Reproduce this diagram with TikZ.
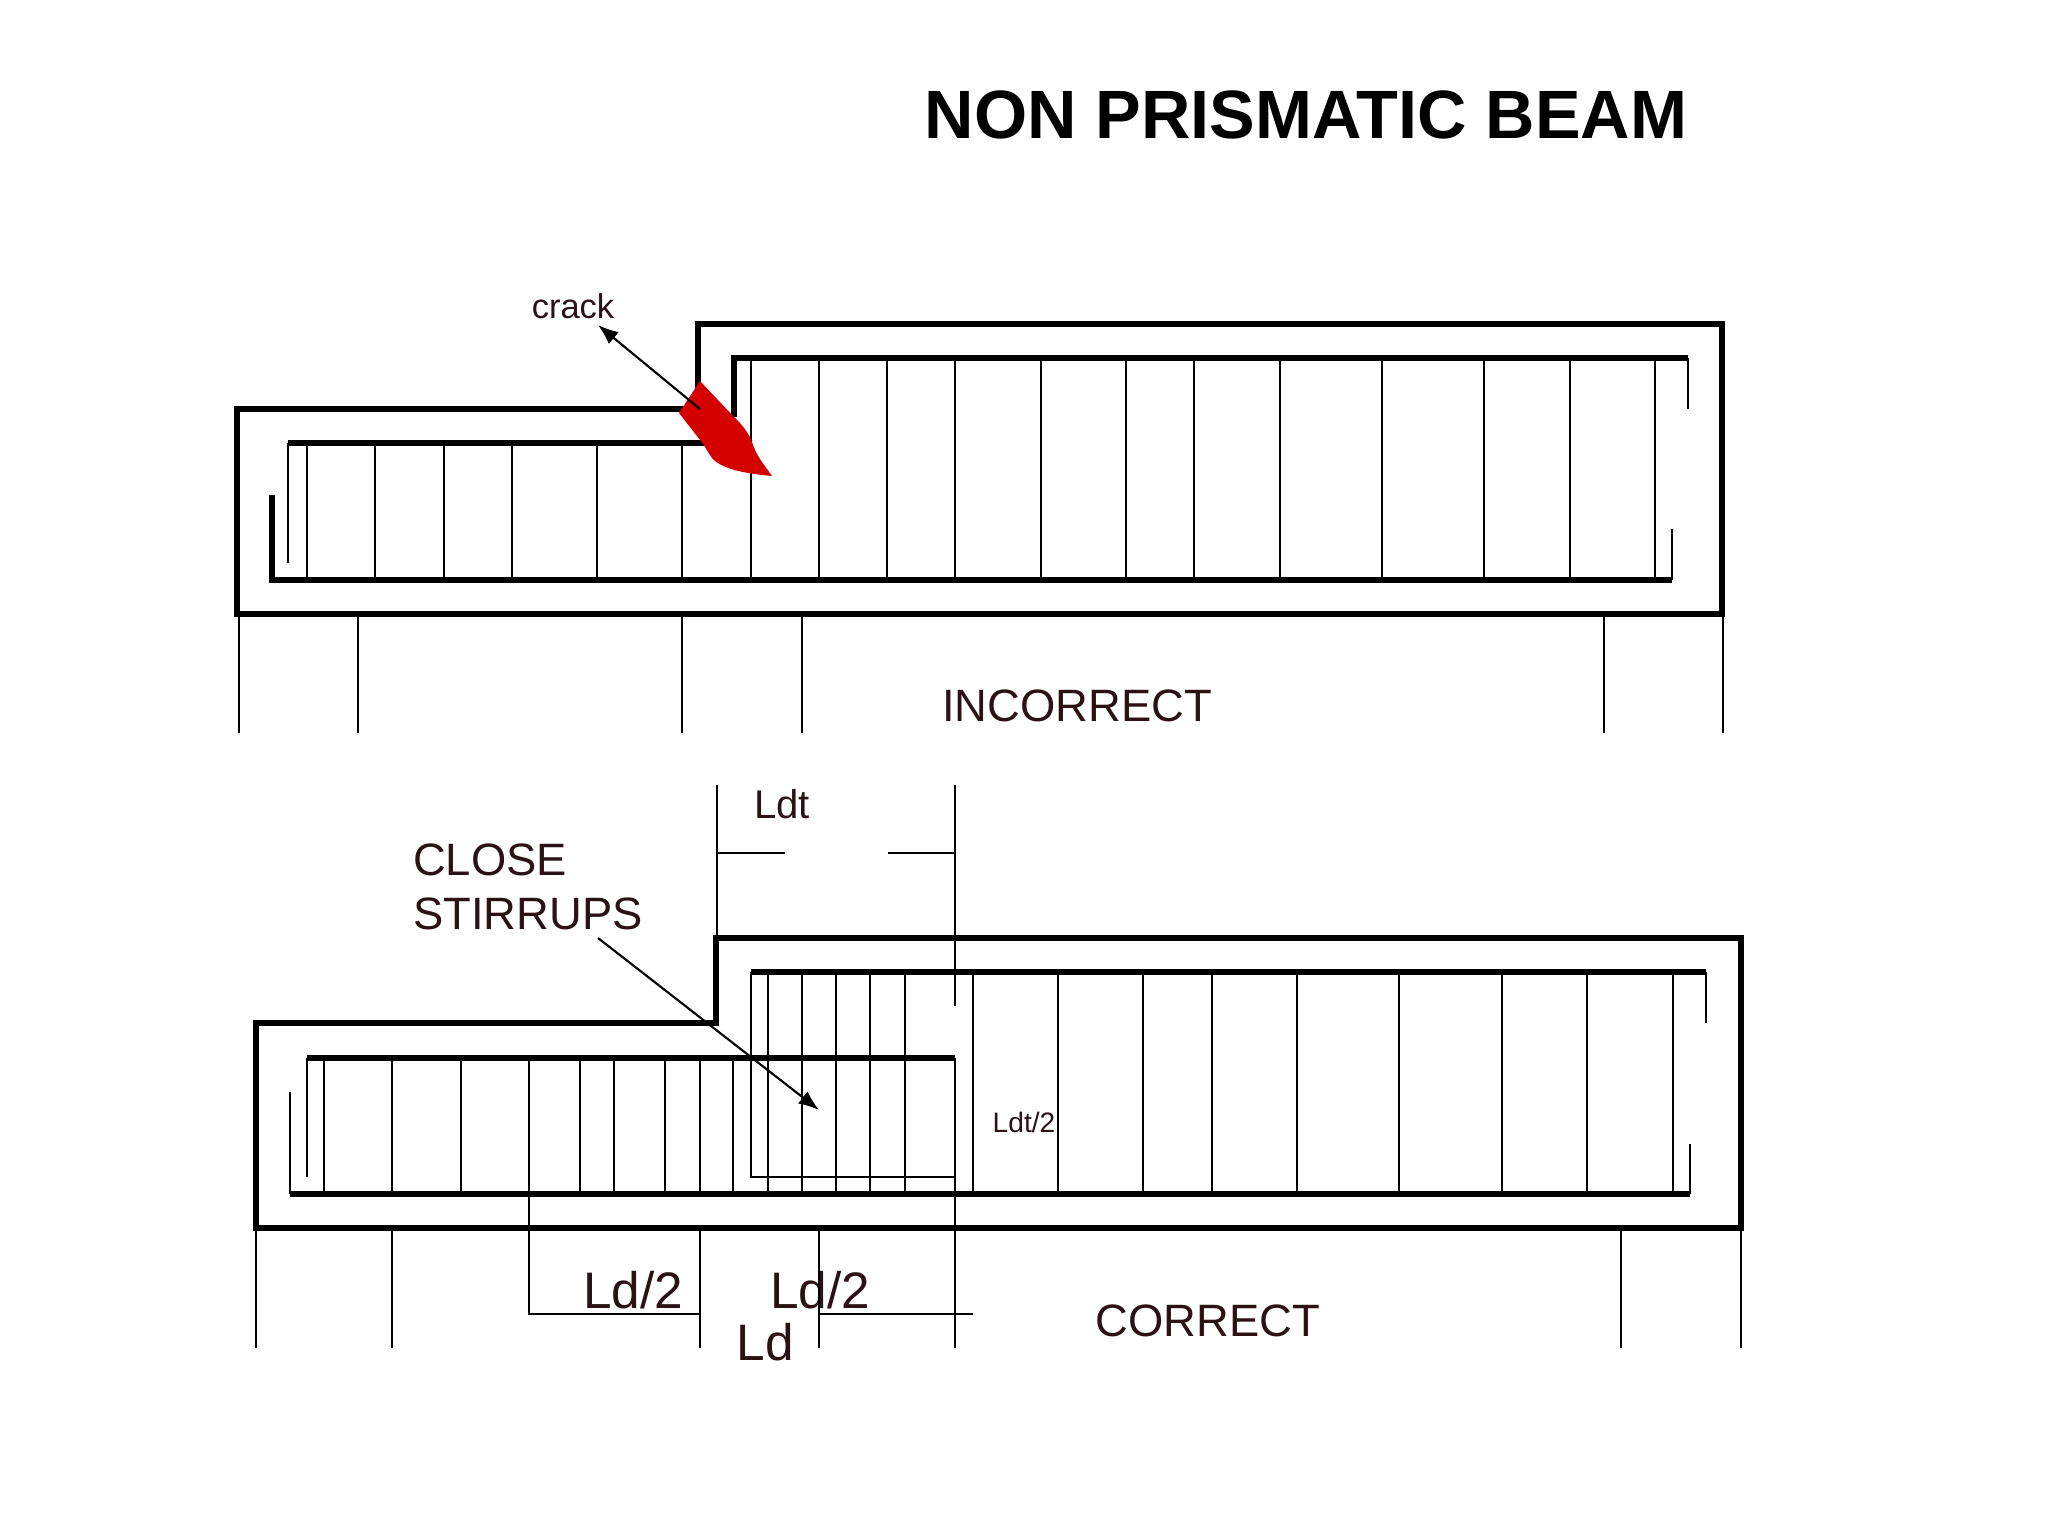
\documentclass[tikz,border=0pt]{standalone}
\usepackage{fontspec}
\setmainfont{Liberation Sans}
\definecolor{labelbrown}{HTML}{2B1215}
\definecolor{crackred}{HTML}{D40000}
\usetikzlibrary{arrows.meta}
\tikzset{
  beamline/.style={line width=1.75pt,line join=miter},
  barline/.style={line width=1.65pt,line join=miter},
  hookline/.style={line width=0.75pt},
  stirrup/.style={line width=0.6pt},
  leader/.style={line width=0.6pt,-{Latex[length=5.8pt,width=4.4pt]}},
  title/.style={inner sep=0pt,font=\fontsize{19.45pt}{23pt}\selectfont\bfseries},
  caption/.style={inner sep=0pt,text=labelbrown,font=\fontsize{12.9pt}{15pt}\selectfont},
  dimtext/.style={inner sep=0pt,text=labelbrown,font=\fontsize{14.6pt}{17pt}\selectfont},
  smalltext/.style={inner sep=0pt,text=labelbrown,font=\fontsize{9.8pt}{12pt}\selectfont}
}
\begin{document}
\begin{tikzpicture}[x=0.01cm,y=-0.01cm]
      \useasboundingbox (0,0) rectangle (2048,1536);
      \draw
        (1306,115) node[title] (heading){NON PRISMATIC BEAM}
        (573,306) node[smalltext] (crack){crack}
        (1077,706) node[caption] (incorrect){INCORRECT}
        (490,860) node[caption] (close){CLOSE}
        (528,914) node[caption] (stirrups){STIRRUPS}
        (782,804) node[smalltext,font=\fontsize{11.4pt}{14pt}\selectfont] (ldt){Ldt}
        (1024,1122) node[smalltext,font=\fontsize{8pt}{10pt}\selectfont] (ldthalf){Ldt/2}
        (633,1290) node[dimtext] (ldhalfa){Ld/2}
        (820,1290) node[dimtext] (ldhalfb){Ld/2}
        (765,1342) node[dimtext] (ld){Ld}
        (1208,1321) node[caption] (correct){CORRECT};
      \coordinate (cracktail) at (700,409);
      \coordinate (cracktip) at (598,325);
      \coordinate (closetail) at (598,938);
      \coordinate (closetip) at (819,1110);
      \begin{scope}[stirrup]
        \draw (288,443) -- (288,563);
        \draw (307,443) -- (307,580);
        \draw (375,443) -- (375,580);
        \draw (444,443) -- (444,580);
        \draw (512,443) -- (512,580);
        \draw (597,443) -- (597,580);
        \draw (682,443) -- (682,580);
        \draw (751,358) -- (751,580);
        \draw (819,358) -- (819,580);
        \draw (887,358) -- (887,580);
        \draw (955,358) -- (955,580);
        \draw (1041,358) -- (1041,580);
        \draw (1126,358) -- (1126,580);
        \draw (1194,358) -- (1194,580);
        \draw (1280,358) -- (1280,580);
        \draw (1382,358) -- (1382,580);
        \draw (1484,358) -- (1484,580);
        \draw (1570,358) -- (1570,580);
        \draw (1655,358) -- (1655,580);
        \draw (239,614) -- (239,733);
        \draw (358,614) -- (358,733);
        \draw (682,614) -- (682,733);
        \draw (802,614) -- (802,733);
        \draw (1604,614) -- (1604,733);
        \draw (1723,614) -- (1723,733);
        \draw (307,1058) -- (307,1177);
        \draw (290,1092) -- (290,1194);
        \draw (324,1058) -- (324,1194);
        \draw (392,1058) -- (392,1194);
        \draw (461,1058) -- (461,1194);
        \draw (529,1058) -- (529,1314) -- (700,1314);
        \draw (580,1058) -- (580,1194);
        \draw (614,1058) -- (614,1194);
        \draw (665,1058) -- (665,1194);
        \draw (700,1058) -- (700,1194);
        \draw (733,1058) -- (733,1194);
        \draw (751,972) -- (751,1177) -- (955,1177) -- (955,1058);
        \draw (768,972) -- (768,1194);
        \draw (802,972) -- (802,1194);
        \draw (836,972) -- (836,1194);
        \draw (870,972) -- (870,1194);
        \draw (905,972) -- (905,1194);
        \draw (973,972) -- (973,1194);
        \draw (1058,972) -- (1058,1194);
        \draw (1143,972) -- (1143,1194);
        \draw (1212,972) -- (1212,1194);
        \draw (1297,972) -- (1297,1194);
        \draw (1399,972) -- (1399,1194);
        \draw (1502,972) -- (1502,1194);
        \draw (1587,972) -- (1587,1194);
        \draw (1673,972) -- (1673,1194);
        \draw (256,1228) -- (256,1348);
        \draw (392,1228) -- (392,1348);
        \draw (700,1228) -- (700,1348);
        \draw (819,1228) -- (819,1348);
        \draw (955,1177) -- (955,1348);
        \draw (1621,1228) -- (1621,1348);
        \draw (1741,1228) -- (1741,1348);
        \draw (819,1314) -- (973,1314);
        \draw (717,785) -- (717,938);
        \draw (955,785) -- (955,1006);
        \draw (717,853) -- (785,853);
        \draw (888,853) -- (955,853);
      \end{scope}
      \begin{scope}[hookline]
        \draw (1688,358) -- (1688,409);
        \draw (1672,580) -- (1672,529);
        \draw (1706,972) -- (1706,1023);
        \draw (1690,1194) -- (1690,1144);
      \end{scope}
      \begin{scope}[barline]
        \draw (272,495) -- (272,580) -- (1672,580);
        \draw (288,443) -- (712,443);
        \draw (734,417) -- (734,358) -- (1688,358);
        \draw (290,1194) -- (1690,1194);
        \draw (307,1058) -- (955,1058);
        \draw (751,972) -- (1706,972);
      \end{scope}
      \draw[beamline] (237,614) -- (237,409) -- (698,409) -- (698,324) -- (1722,324) -- (1722,614) -- cycle;
      \draw[beamline] (256,1228) -- (256,1023) -- (716,1023) -- (716,938) -- (1741,938) -- (1741,1228) -- cycle;
      \fill[crackred] (700,381) -- (734,417) .. controls (744,426) and (750,436) .. (752,442)
        .. controls (756,455) and (762,462) .. (772,476)
        .. controls (750,474) and (722,470) .. (712,458)
        .. controls (708,452) and (706,449) .. (704,445) -- (679,413) -- cycle;
      \draw[leader] (cracktail) -- (cracktip);
      \draw[leader] (closetail) -- (closetip);
    \end{tikzpicture}
\end{document}
